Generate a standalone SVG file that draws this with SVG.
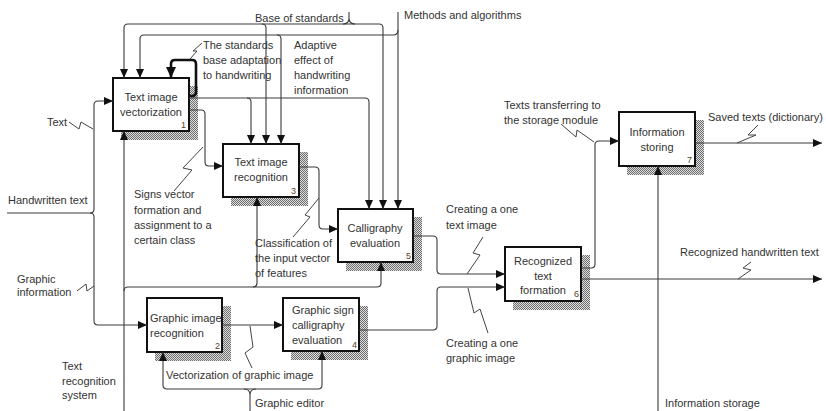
<svg xmlns="http://www.w3.org/2000/svg" width="826" height="411" viewBox="0 0 826 411">
<defs>
<pattern id="hatch" width="2" height="2" patternUnits="userSpaceOnUse"><rect width="2" height="2" fill="#dcdcdc"/><rect width="1" height="1" fill="#707070"/><rect x="1" y="1" width="1" height="1" fill="#707070"/></pattern>
<marker id="arr" markerWidth="11" markerHeight="9" refX="9" refY="4" orient="auto" markerUnits="userSpaceOnUse"><path d="M0,0 L9,4 L0,8 z" fill="#111"/></marker>
<marker id="arrb" markerWidth="12" markerHeight="11" refX="11" refY="5" orient="auto" markerUnits="userSpaceOnUse"><path d="M0,0 L11,5 L0,10 z" fill="#111"/></marker>
<style>
.c{fill:none;stroke:#3a3a3a;stroke-width:1.1}
.a{marker-end:url(#arr)}
.thick{fill:none;stroke:#111;stroke-width:2.6;marker-end:url(#arrb)}
.sq{fill:none;stroke:#444;stroke-width:1}
.box{fill:#fff;stroke:#111;stroke-width:2}
.sh{fill:url(#hatch)}
text{font-family:"Liberation Sans",Arial,sans-serif;font-size:11px;fill:#333}
.m{text-anchor:middle}
.n{font-size:9px;text-anchor:end;fill:#5a4020}
</style>
</defs>
<rect width="826" height="411" fill="#fff"/>

<g id="node1">
<rect class="sh" x="121" y="86" width="77" height="54"/>
<rect class="box" x="113" y="78" width="76" height="53"/>
<text class="m" x="151" y="101">Text image</text>
<text class="m" x="151" y="116">vectorization</text>
<text class="n" x="186" y="128">1</text>
</g>
<g id="node3">
<rect class="sh" x="231" y="152" width="77" height="54"/>
<rect class="box" x="223" y="144" width="76" height="53"/>
<text class="m" x="261" y="166">Text image</text>
<text class="m" x="261" y="181">recognition</text>
<text class="n" x="296" y="194">3</text>
</g>
<g id="node5">
<rect class="sh" x="346" y="217" width="76" height="54"/>
<rect class="box" x="338" y="209" width="75" height="53"/>
<text class="m" x="375" y="232">Calligraphy</text>
<text class="m" x="375" y="247">evaluation</text>
<text class="n" x="411" y="259">5</text>
</g>
<g id="node2">
<rect class="sh" x="155" y="306" width="76" height="55"/>
<rect class="box" x="147" y="298" width="75" height="54"/>
<text x="150" y="322">Graphic image</text>
<text x="150" y="337">recognition</text>
<text class="n" x="220" y="349">2</text>
</g>
<g id="node4">
<rect class="sh" x="291" y="306" width="77" height="54"/>
<rect class="box" x="283" y="298" width="76" height="53"/>
<text x="292" y="314">Graphic sign</text>
<text x="292" y="329">calligraphy</text>
<text x="292" y="344">evaluation</text>
<text class="n" x="357" y="348">4</text>
</g>
<g id="node6">
<rect class="sh" x="513" y="255" width="77" height="55"/>
<rect class="box" x="505" y="247" width="76" height="54"/>
<text class="m" x="543" y="265">Recognized</text>
<text class="m" x="543" y="280">text</text>
<text class="m" x="543" y="294">formation</text>
<text class="n" x="579" y="297">6</text>
</g>
<g id="node7">
<rect class="sh" x="627" y="120" width="77" height="55"/>
<rect class="box" x="619" y="112" width="76" height="54"/>
<text class="m" x="657" y="136">Information</text>
<text class="m" x="657" y="151">storing</text>
<text class="n" x="692" y="163">7</text>
</g>

<g id="connectors">
<path class="c a" d="M7,213 H90 Q94,213 94,209 V105 Q94,101 98,101 H113"/>
<path class="c a" d="M90,213 Q94,213 94,217 V321 Q94,325 98,325 H147"/>
<path class="c" d="M128,24 H379"/>
<path class="c" d="M343,24 Q349,24 349,18 V12 M349,18 Q349,24 355,24"/>
<path class="c a" d="M128,24 Q124,24 124,28 V78"/>
<path class="c a" d="M262,24 Q266,24 266,28 V144"/>
<path class="c a" d="M379,24 Q383,24 383,28 V209"/>
<path class="c a" d="M398,12 V209"/>
<path class="c" d="M144,35 H393 Q398,35 398,30"/>
<path class="c a" d="M144,35 Q140,35 140,39 V78"/>
<path class="c a" d="M277,35 Q281,35 281,39 V144"/>
<path class="thick" d="M189,96 H192 Q196,96 196,92 V64 Q196,60 192,60 H175 Q171,60 171,64 V78"/>
<path class="c a" d="M189,98 H365 Q369,98 369,102 V209"/>
<path class="c a" d="M247,98 Q251,98 251,102 V144"/>
<path class="c a" d="M189,110 H201 Q205,110 205,114 V162 Q205,166 209,166 H223"/>
<path class="c a" d="M299,167 H315 Q319,167 319,171 V225 Q319,229 323,229 H338"/>
<path class="c a" d="M124,411 V131"/>
<path class="c a" d="M124,291 Q124,287 128,287 H253 Q257,287 257,283 V197"/>
<path class="c a" d="M253,287 H377 Q381,287 381,283 V262"/>
<path class="c a" d="M222,325 H283"/>
<path class="c a" d="M167,389 H318 Q322,389 322,385 V351"/>
<path class="c a" d="M167,389 Q163,389 163,385 V352"/>
<path class="c" d="M244,389 Q250,389 250,395 V411 M256,389 Q250,389 250,395"/>
<path class="c a" d="M413,236 H433 Q437,236 437,240 V270 Q437,274 441,274 H505"/>
<path class="c a" d="M359,330 H433 Q437,330 437,326 V291 Q437,287 441,287 H505"/>
<path class="c a" d="M581,268 H591 Q595,268 595,264 V145 Q595,141 599,141 H619"/>
<path class="c a" d="M581,279 H822"/>
<path class="c a" d="M695,143 H822"/>
<path class="c a" d="M658,411 V166"/>
<path class="sq" d="M69,122 L79,129 L81,122 L93,129"/>
<path class="sq" d="M77,291 L86,284 L87,291 L94,286"/>
<path class="sq" d="M202,43 L193,51 L197,51 L190,59"/>
<path class="sq" d="M174,191 L192,170 L183,168 L203,147"/>
<path class="sq" d="M293,237 L310,217 L305,215 L319,198"/>
<path class="sq" d="M252,368 L245,353 L253,347 L250,326"/>
<path class="sq" d="M483,237 L473,253 L480,255 L467,274"/>
<path class="sq" d="M488,333 L480,309 L474,313 L468,288"/>
<path class="sq" d="M561,124 L576,137 L577,130 L594,142"/>
<path class="sq" d="M758,125 L748,135 L756,135 L737,143"/>
<path class="sq" d="M751,262 L743,268 L751,270 L738,279"/>
</g>

<g id="labels">
<text x="255" y="22">Base of standards</text>
<text x="404" y="19">Methods and algorithms</text>
<text x="203" y="49">The standards</text>
<text x="203" y="64">base adaptation</text>
<text x="203" y="79">to handwriting</text>
<text x="294" y="49">Adaptive</text>
<text x="294" y="64">effect of</text>
<text x="294" y="79">handwriting</text>
<text x="294" y="94">information</text>
<text x="47" y="126">Text</text>
<text x="8" y="204">Handwritten text</text>
<text x="17" y="283">Graphic</text>
<text x="17" y="296">information</text>
<text x="62" y="370">Text</text>
<text x="62" y="385">recognition</text>
<text x="62" y="399">system</text>
<text x="134" y="198">Signs vector</text>
<text x="134" y="214">formation and</text>
<text x="134" y="229">assignment to a</text>
<text x="134" y="244">certain class</text>
<text x="255" y="247">Classification of</text>
<text x="255" y="262">the input vector</text>
<text x="255" y="277">of features</text>
<text x="166" y="379">Vectorization of graphic image</text>
<text x="255" y="407">Graphic editor</text>
<text x="446" y="213">Creating a one</text>
<text x="446" y="229">text image</text>
<text x="446" y="347">Creating a one</text>
<text x="446" y="362">graphic image</text>
<text x="504" y="109">Texts transferring to</text>
<text x="504" y="124">the storage module</text>
<text x="708" y="121">Saved texts (dictionary)</text>
<text x="680" y="256">Recognized handwritten text</text>
<text x="665" y="407">Information storage</text>
</g>
</svg>
